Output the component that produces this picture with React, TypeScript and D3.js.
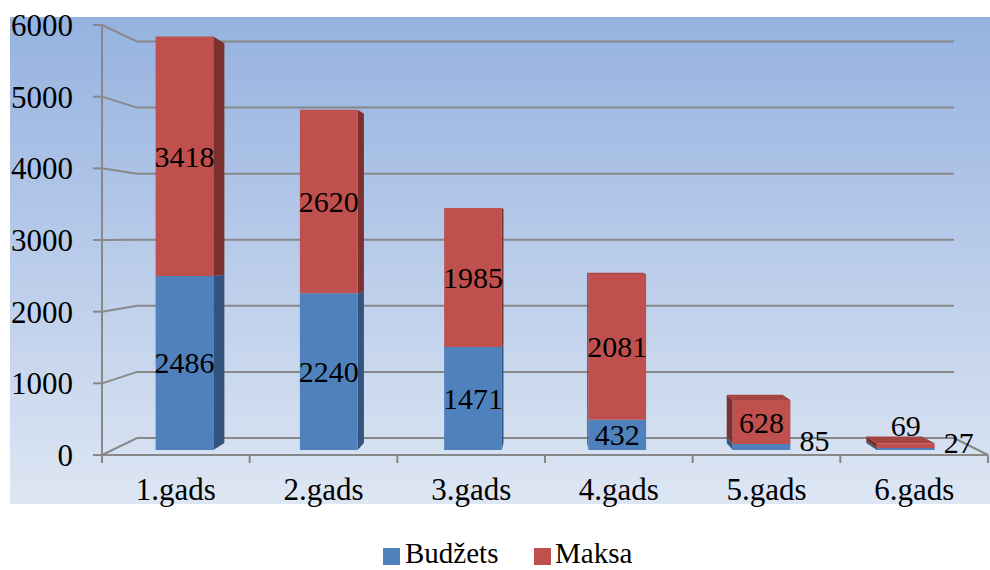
import React from 'react';
import * as d3 from 'd3';

const categories = ['1.gads', '2.gads', '3.gads', '4.gads', '5.gads', '6.gads'];
const budzets = [2486, 2240, 1471, 432, 85, 27];
const maksa = [3418, 2620, 1985, 2081, 628, 69];
const seriesNames = ['Budžets', 'Maksa'];
const yTicks = [0, 1000, 2000, 3000, 4000, 5000, 6000];

const FRONT = ['#4F81BD', '#C0504D'];
const SIDE = ['#33547F', '#7E302E'];
const TOP = ['#416FA8', '#A64441'];
const GRID = '#888888';
const FONT = '"Liberation Serif", "Times New Roman", serif';

export default function App() {
  const W = 990, H = 570;
  const x = d3.scaleBand<string>().domain(categories).range([102, 988]).paddingInner(0.6).paddingOuter(0.3);
  const y = d3.scaleLinear().domain([0, 6000]).range([455, 25]);
  const VX = 551, VY = 237, K = 0.078;
  const zF = 0.295, zB = 0.705;
  const P = (xf: number, yf: number, z: number): [number, number] => {
    const s = 1 - K * z;
    return [VX + s * (xf - VX), VY + s * (yf - VY)];
  };
  const pts = (a: [number, number][]) => a.map(p => p.join(',')).join(' ');
  const bw = x.bandwidth();
  const step = x.step();
  const [x0a] = x.range();
  const x1a = x.range()[1];

  const stacks = d3.stack<any>().keys(['b', 'm'])(categories.map((c, i) => ({ c, b: budzets[i], m: maksa[i] })));

  const faces: JSX.Element[] = [];
  const labels: JSX.Element[] = [];
  categories.forEach((c, i) => {
    const xl = x(c)!;
    const xr = xl + bw;
    const xc = xl + bw / 2;
    stacks.forEach((ser, si) => {
      const [lo, hi] = ser[i];
      const yb = y(lo), yt = y(hi);
      const isTop = si === stacks.length - 1;
      if (xr < VX) {
        faces.push(<polygon key={`s${i}${si}`} points={pts([P(xr, yb, zF), P(xr, yb, zB), P(xr, yt, zB), P(xr, yt, zF)])} fill={SIDE[si]} />);
      } else if (xl > VX) {
        faces.push(<polygon key={`s${i}${si}`} points={pts([P(xl, yb, zF), P(xl, yb, zB), P(xl, yt, zB), P(xl, yt, zF)])} fill={SIDE[si]} />);
      }
      if (isTop && yt > VY) {
        faces.push(<polygon key={`t${i}${si}`} points={pts([P(xl, yt, zF), P(xr, yt, zF), P(xr, yt, zB), P(xl, yt, zB)])} fill={TOP[si]} />);
      }
      faces.push(<polygon key={`f${i}${si}`} points={pts([P(xl, yb, zF), P(xr, yb, zF), P(xr, yt, zF), P(xl, yt, zF)])} fill={FRONT[si]} />);

      const val = hi - lo;
      const segH = yb - yt;
      let lx: number, ly: number, anchor: 'middle' | 'start' = 'middle';
      if (segH >= 25) {
        [lx, ly] = P(xc, y((lo + hi) / 2), zF);
      } else if (isTop) {
        const [px, py] = P(xc, yt, zF);
        lx = px; ly = py - 18;
      } else {
        const [px, py] = P(xr, y((lo + hi) / 2), zF);
        lx = px + 9; ly = py - 7; anchor = 'start';
      }
      labels.push(
        <text key={`l${i}${si}`} x={lx} y={ly} dy="0.35em" textAnchor={anchor} fontSize={30} fontFamily={FONT} fill="#000">{val}</text>
      );
    });
  });

  return (
    <svg width={W} height={H} style={{ position: 'absolute', left: 0, top: 0 }}>
      <defs>
        <linearGradient id="bg" x1="0" y1="0" x2="0" y2="1">
          <stop offset="0" stopColor="#95B2E0" />
          <stop offset="1" stopColor="#DDE6F3" />
        </linearGradient>
      </defs>
      <rect x={0} y={0} width={W} height={H} fill="#fff" />
      <rect x={10} y={17} width={980} height={487} fill="url(#bg)" />
      {yTicks.map(t => {
        const a = P(x0a, y(t), 0), b = P(x0a, y(t), 1), c = P(x1a, y(t), 1);
        return (
          <g key={`g${t}`}>
            <polyline points={pts([a, b, c])} fill="none" stroke={GRID} strokeWidth={2} />
            <line x1={93} x2={x0a} y1={y(t)} y2={y(t)} stroke={GRID} strokeWidth={2} />
            <text x={73} y={y(t)} dy="0.35em" textAnchor="end" fontSize={31} fontFamily={FONT} fill="#000">{t}</text>
          </g>
        );
      })}
      <polyline points={pts([P(x1a, y(0), 1), P(x1a, y(0), 0)])} fill="none" stroke={GRID} strokeWidth={2} />
      <line x1={x0a} x2={x1a} y1={y(0)} y2={y(0)} stroke={GRID} strokeWidth={2} />
      <line x1={x0a} x2={x0a} y1={y(6000)} y2={y(0) + 8} stroke={GRID} strokeWidth={2} />
      {d3.range(categories.length + 1).map(k => (
        <line key={`ct${k}`} x1={x0a + k * step} x2={x0a + k * step} y1={y(0)} y2={y(0) + 8} stroke={GRID} strokeWidth={2} />
      ))}
      {faces}
      {labels}
      {categories.map(c => (
        <text key={`c${c}`} x={x(c)! + bw / 2} y={500} textAnchor="middle" fontSize={31} fontFamily={FONT} fill="#000">{c}</text>
      ))}
      <g>
        <rect x={383} y={548} width={17} height={17} fill={FRONT[0]} />
        <text x={405} y={563} fontSize={29} fontFamily={FONT} fill="#000">{seriesNames[0]}</text>
        <rect x={534} y={548} width={17} height={17} fill={FRONT[1]} />
        <text x={555} y={563} fontSize={29} fontFamily={FONT} fill="#000">{seriesNames[1]}</text>
      </g>
    </svg>
  );
}
